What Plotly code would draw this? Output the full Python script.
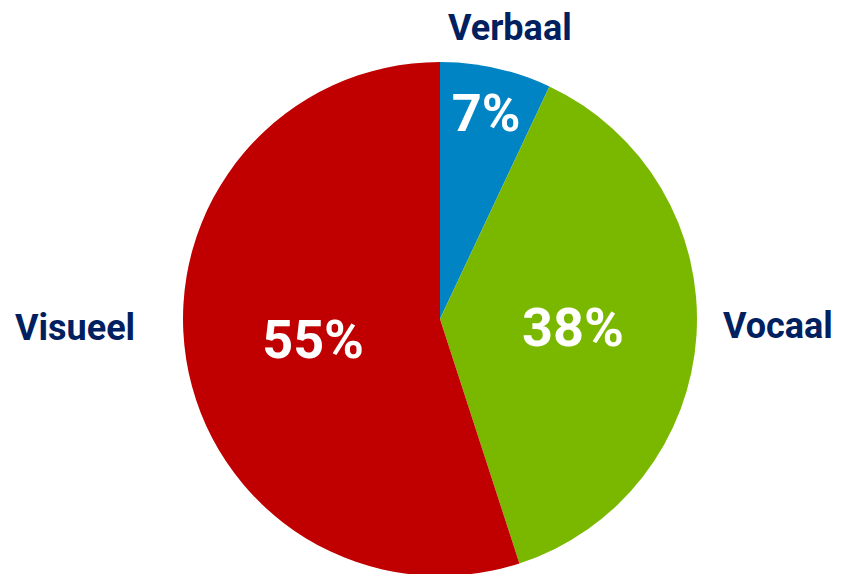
import plotly.graph_objects as go

categories = ["Verbaal", "Vocaal", "Visueel"]
values = [7, 38, 55]
colors = ["#0084C4", "#7AB800", "#C00000"]

W, H = 827, 574
OFF = 8  # page body margin offset in the screenshot

def px(x):
    return (x - OFF) / W

def py(y):
    return 1 - (y - OFF) / H

fig = go.Figure()
fig.add_trace(go.Pie(
    labels=categories, values=values, sort=False, direction="clockwise",
    rotation=0, marker=dict(colors=colors, line=dict(width=0)),
    texttemplate="%{value}%", textposition="inside",
    insidetextorientation="horizontal",
    insidetextfont=dict(family="Roboto", size=54, color="white", weight="bold"),
    domain=dict(x=[px(183), px(697)], y=[max(0, py(576)), py(62)]),
    showlegend=False, hoverinfo="label+percent",
))

label_pos = {"Verbaal": (510, 28), "Vocaal": (778, 326), "Visueel": (75, 328)}
for c in categories:
    x, y = label_pos[c]
    fig.add_annotation(x=px(x), y=py(y), xref="paper", yref="paper",
                       xanchor="center", yanchor="middle",
                       text=c, showarrow=False,
                       font=dict(family="Roboto", size=36, color="#002060", weight="bold"))

fig.update_layout(width=W, height=H, margin=dict(l=0, r=0, t=0, b=0),
                  paper_bgcolor="white", plot_bgcolor="white")
fig.write_html("out.html")
